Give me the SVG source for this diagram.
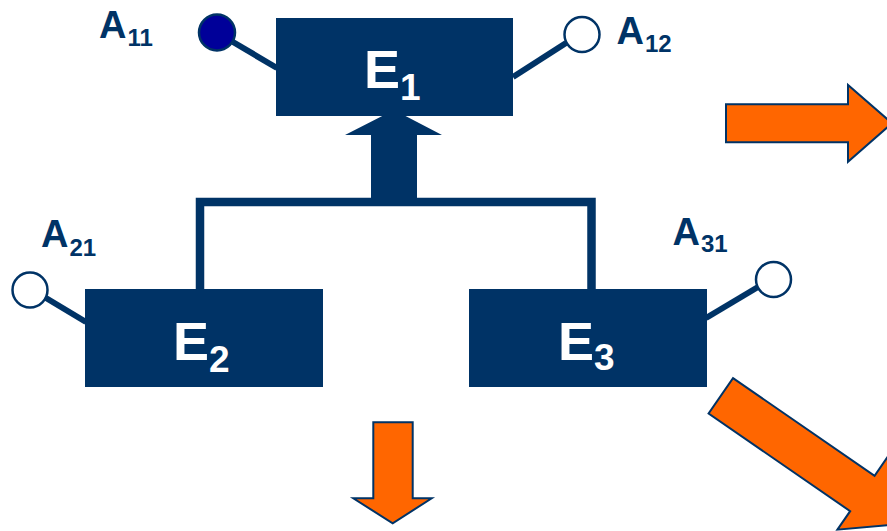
<svg xmlns="http://www.w3.org/2000/svg" width="887" height="531" viewBox="0 0 887 531">
  <defs>
    <style>
      .box { fill: #003366; }
      .etext { font-family: "Liberation Sans", Arial, sans-serif; font-weight: bold; fill: #ffffff; font-size: 54px; }
      .esub { font-size: 37px; }
      .alabel { font-family: "Liberation Sans", Arial, sans-serif; font-weight: bold; fill: #003366; font-size: 38px; }
      .asub { font-size: 24px; }
      .port { fill: #ffffff; stroke: #003366; stroke-width: 2.5; }
      .port.filled { fill: #000099; }
      .link { stroke: #003366; stroke-width: 6; fill: none; }
      .tree { stroke: #003366; stroke-width: 8.5; fill: none; stroke-linejoin: miter; }
      .flow { fill: #ff6600; stroke: #003366; stroke-width: 2; stroke-linejoin: miter; }
    </style>
  </defs>

  <rect width="887" height="531" fill="#ffffff"/>

  <!-- connectors: hierarchy tree, aggregation arrow, port stems -->
  <g id="connectors">
    <polyline class="tree" points="200,289 200,202 591.5,202 591.5,289"/>
    <polygon fill="#003366" points="371,202 417,202 417,135 442,135 394,110 345,135 371,135"/>
    <line class="link" x1="233" y1="42" x2="277" y2="68"/>
    <line class="link" x1="513" y1="77" x2="566" y2="43"/>
    <line class="link" x1="46" y1="298" x2="86" y2="322"/>
    <line class="link" x1="706" y1="318" x2="758" y2="287"/>
  </g>

  <!-- element blocks -->
  <g id="E1">
    <rect class="box" x="276" y="18" width="237" height="98"/>
    <text class="etext" x="364" y="88">E<tspan class="esub" dy="12">1</tspan></text>
  </g>
  <g id="E2">
    <rect class="box" x="85" y="289" width="238" height="98"/>
    <text class="etext" x="173" y="360">E<tspan class="esub" dy="12">2</tspan></text>
  </g>
  <g id="E3">
    <rect class="box" x="469" y="289" width="238" height="98"/>
    <text class="etext" x="558" y="360">E<tspan class="esub" dy="10">3</tspan></text>
  </g>

  <!-- ports -->
  <g id="A11">
    <circle class="port filled" cx="217" cy="32.5" r="18"/>
    <text class="alabel" x="99" y="37.7">A<tspan class="asub" dx="1" dy="8.3">11</tspan></text>
  </g>
  <g id="A12">
    <circle class="port" cx="582" cy="34.5" r="17.5"/>
    <text class="alabel" x="616.5" y="44.3">A<tspan class="asub" dx="1" dy="7.4">12</tspan></text>
  </g>
  <g id="A21">
    <circle class="port" cx="30" cy="290" r="17.5"/>
    <text class="alabel" x="41" y="246.7">A<tspan class="asub" dx="1" dy="9">21</tspan></text>
  </g>
  <g id="A31">
    <circle class="port" cx="773.5" cy="279.5" r="17.5"/>
    <text class="alabel" x="672.5" y="245">A<tspan class="asub" dx="1" dy="7.3">31</tspan></text>
  </g>

  <!-- outgoing flow arrows -->
  <g id="flow-right">
    <polygon class="flow" points="726,104.3 848,104.3 848,85 892,123.3 848,161.7 848,142.3 726,142.3"/>
  </g>
  <g id="flow-down">
    <polygon class="flow" points="373.3,422.3 412.7,422.3 412.7,498.3 431.7,498.3 392.7,523.3 353.3,498.3 373.3,498.3"/>
  </g>
  <g id="flow-diagonal">
    <polygon class="flow" transform="translate(720.8,395.8) rotate(34.6)" points="0,-21.5 172,-21.5 172,-44 225,0 172,44 172,21.5 0,21.5"/>
  </g>
</svg>
